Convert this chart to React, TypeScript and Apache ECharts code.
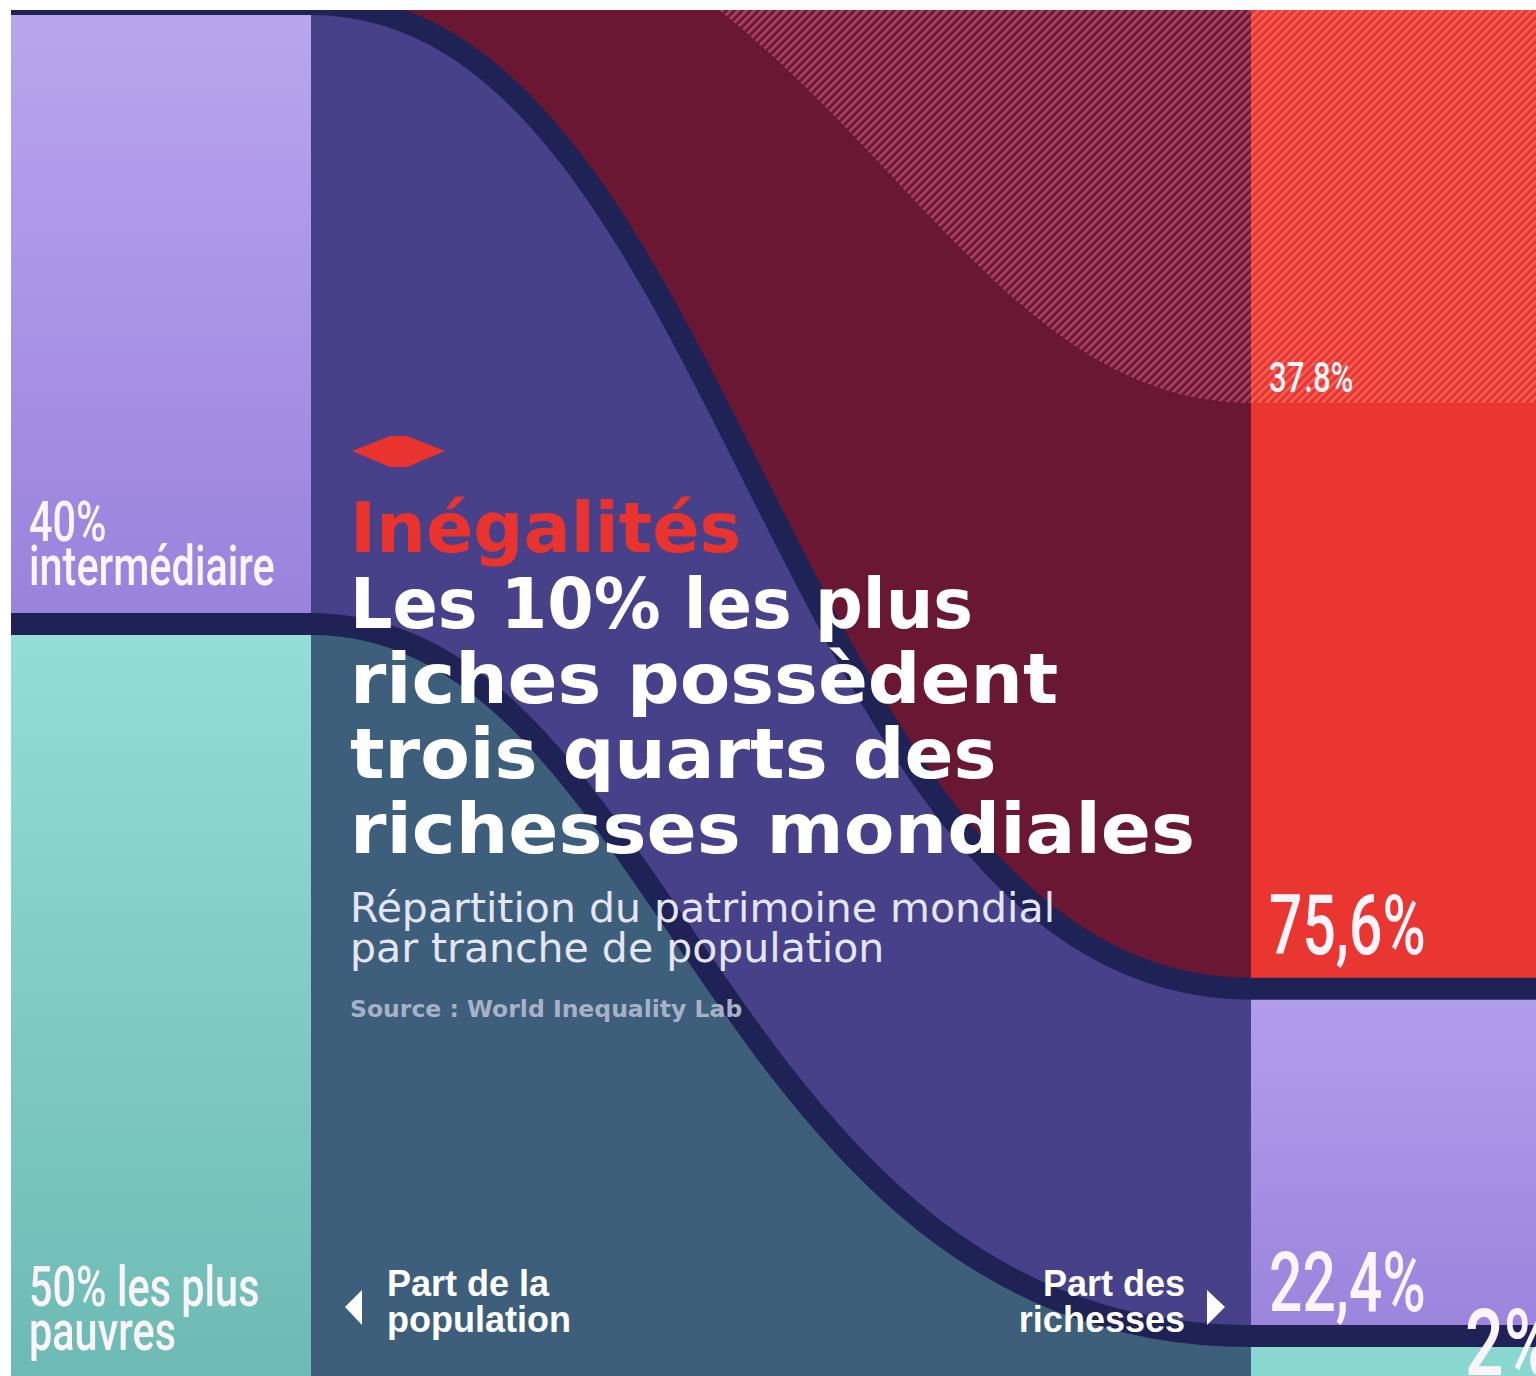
import { useEffect, useRef } from 'react';
import * as echarts from 'echarts';

// ---------------- data ----------------
const populationGroups = ['50% les plus pauvres', '40% intermédiaire', '10% les plus riches'];
const populationShare = [50, 40, 10];
const populationLabels = [['50% les plus', 'pauvres'], ['40%', 'intermédiaire'], []];
const wealthShare = [2, 22.4, 75.6];
const wealthLabels = ['2%', '22,4%', '75,6%'];
const top1PopulationShare = 1;
const top1WealthShare = 37.8;
const top1WealthLabel = '37.8%';

const titleKicker = 'Inégalités';
const titleLines = ['Les 10% les plus', 'riches possèdent', 'trois quarts des', 'richesses mondiales'];
const subtitleLines = ['Répartition du patrimoine mondial', 'par tranche de population'];
const sourceText = 'Source : World Inequality Lab';
const populationAxisLabel = ['Part de la', 'population'];
const wealthAxisLabel = ['Part des', 'richesses'];

// ---------------- derived stacks ----------------
function stack(shares: number[]) {
  let acc = 0;
  return shares.map((s) => {
    const b = [acc, acc + s];
    acc += s;
    return b;
  });
}
const popBands = stack(populationShare);
const wealthBands = stack(wealthShare);

// ---------------- layout / style ----------------
const LEFT_COL_END = 300 / 1525;
const RIGHT_COL_START = 1240 / 1525;
// visible window of each stacked axis (the top of the population stack is cropped)
const POP_AXIS = { min: 1.4839, max: 89.613 };
const WEALTH_AXIS = { min: -0.5806, max: 87.548 };
const BOUNDARY_CURVE = [
  [0.5, 0.5],
  [0.38, 0.57],
  [0.45, 0.5],
  [0.5, 0.5],
];
const TOP1_CURVE = [0.55, 0.35];
const SEP_COLOR = '#1f2255';
const SEP_WIDTH = 22;
const TITLE_SCALE = [0.954, 1.052, 1.032, 1.057];
const FLOOR_PAD = 30;

const grad = (a: string, b: string) =>
  new echarts.graphic.LinearGradient(0, 0, 0, 1, [
    { offset: 0, color: a },
    { offset: 1, color: b },
  ]);

const FLOW_COLORS = ['#3e5f7b', '#47418a', '#6a1734'];

const POP_LABEL_BASE_DY = [-49, -39, 0];
const WEALTH_LABEL_BASE_DY = [8, -24, -34];
const WEALTH_LABEL_DX = [214, 18, 18];
const WEALTH_LABEL_SIZE = [92, 84, 84];
const WEALTH_LABEL_SCALE = [0.74, 0.7, 0.7];
const CONDENSED = 0.74;

function stripes(bg: string, fg: string, size: number, lw: number) {
  const c = document.createElement('canvas');
  c.width = size;
  c.height = size;
  const g = c.getContext('2d')!;
  g.fillStyle = bg;
  g.fillRect(0, 0, size, size);
  g.strokeStyle = fg;
  g.lineWidth = lw;
  g.beginPath();
  g.moveTo(-size / 2, size / 2);
  g.lineTo(size / 2, -size / 2);
  g.moveTo(0, size);
  g.lineTo(size, 0);
  g.moveTo(size / 2, size * 1.5);
  g.lineTo(size * 1.5, size / 2);
  g.stroke();
  return { image: c, repeat: 'repeat', imageWidth: size, imageHeight: size } as any;
}

export default function App() {
  const ref = useRef<HTMLDivElement>(null);

  useEffect(() => {
    const chart = echarts.init(ref.current!, null, { renderer: 'svg' });
    const wy = (w: number) => chart.convertToPixel({ yAxisIndex: 1 } as any, w) as unknown as number;

    const LEFT_FILLS: any[] = [grad('#93ded6', '#6cb9b3'), grad('#b9a6ef', '#9882dc'), '#ea3630'];
    const RIGHT_FILLS: any[] = ['#8ad7cf', grad('#b39eec', '#9a84dd'), '#ea3630'];
    const darkHatch = stripes('#6a1734', '#a4405f', 8, 3);
    const redHatch = stripes('#ea3630', '#f4675f', 8, 2.2);

    const geom = (api: any) => ({
      xL0: api.coord([0, POP_AXIS.min])[0],
      xL1: api.coord([LEFT_COL_END, POP_AXIS.min])[0],
      xR0: api.coord([RIGHT_COL_START, POP_AXIS.min])[0],
      xR1: api.coord([1, POP_AXIS.min])[0],
      floor: api.coord([0, POP_AXIS.min])[1] + FLOOR_PAD,
      yp: (v: number) => api.coord([0, v])[1],
    });

    const flowPath = (g: any, yLt: number, yRt: number, yLb: number, yRb: number, up: number[], lo: number[] | null) => {
      const W = g.xR0 - g.xL1;
      const lower = lo
        ? `C${g.xR0 - lo[1] * W},${yRb} ${g.xL1 + lo[0] * W},${yLb} ${g.xL1},${yLb} `
        : `L${g.xL1},${yLb} `;
      return (
        `M${g.xL0},${yLt} L${g.xL1},${yLt} ` +
        `C${g.xL1 + up[0] * W},${yLt} ${g.xR0 - up[1] * W},${yRt} ${g.xR0},${yRt} ` +
        `L${g.xR1},${yRt} L${g.xR1},${yRb} L${g.xR0},${yRb} ` +
        lower +
        `L${g.xL0},${yLb} Z`
      );
    };

    const condensedText = (x: number, y: number, text: string, size: number, scaleX = CONDENSED) => ({
      type: 'text',
      x,
      y,
      scaleX,
      style: {
        text,
        fill: '#fbf4fb',
        fontSize: size,
        fontFamily: 'Roboto',
        fontWeight: 500,
        align: 'left',
        verticalAlign: 'middle',
        textAlign: 'left',
        textVerticalAlign: 'middle',
      },
    });

    const txt = (x: number, y: number, text: string, size: number, fill: string, family: string, weight: any, align = 'left', scaleX = 1) => ({
      type: 'text',
      x,
      y,
      z: 100,
      scaleX,
      style: {
        text,
        fill,
        fontSize: size,
        fontFamily: family,
        fontWeight: weight,
        align,
        verticalAlign: 'middle',
        textAlign: align,
        textVerticalAlign: 'middle',
      },
    });

    const graphicEls: any[] = [];
    graphicEls.push({
      type: 'polygon',
      z: 100,
      shape: { points: [[341, 441], [379, 426], [396, 426], [434, 441], [396, 457], [379, 457]] },
      style: { fill: '#e9332f' },
    });
    graphicEls.push(txt(339, 542 - 0.345 * 70, titleKicker, 70, '#e9332f', 'DejaVu Sans', 'bold'));
    titleLines.forEach((l, i) => {
      graphicEls.push(txt(339, 618 + i * 75 - 0.345 * 70, l, 70, '#ffffff', 'DejaVu Sans', 'bold', 'left', TITLE_SCALE[i]));
    });
    subtitleLines.forEach((l, i) => {
      graphicEls.push(txt(339, 912 + i * 40 - 0.345 * 41, l, 41, '#e4e5f5', 'DejaVu Sans', 'normal'));
    });
    graphicEls.push(txt(339, 1007 - 0.345 * 23.5, sourceText, 23.5, '#a7b1c8', 'DejaVu Sans', 'bold'));
    populationAxisLabel.forEach((l, i) => {
      graphicEls.push(txt(376, 1286 + i * 36 - 0.345 * 36, l, 36, '#ffffff', 'Liberation Sans', 'bold'));
    });
    wealthAxisLabel.forEach((l, i) => {
      graphicEls.push(txt(1174, 1286 + i * 36 - 0.345 * 36, l, 36, '#ffffff', 'Liberation Sans', 'bold', 'right'));
    });
    graphicEls.push({ type: 'polygon', z: 100, shape: { points: [[334, 1297], [351, 1280], [351, 1315]] }, style: { fill: '#ffffff' } });
    graphicEls.push({ type: 'polygon', z: 100, shape: { points: [[1196, 1280], [1196, 1315], [1214, 1297]] }, style: { fill: '#ffffff' } });

    const option: any = {
      animation: false,
      backgroundColor: '#ffffff',
      grid: { left: 0, right: 0, top: 0, bottom: 0, containLabel: false },
      xAxis: { type: 'value', min: 0, max: 1, show: false },
      yAxis: [
        { type: 'value', min: POP_AXIS.min, max: POP_AXIS.max, show: false },
        { type: 'value', min: WEALTH_AXIS.min, max: WEALTH_AXIS.max, show: false },
      ],
      series: [
        {
          type: 'custom',
          name: 'flows',
          z: 1,
          xAxisIndex: 0,
          yAxisIndex: 0,
          data: populationGroups.map((_, i) => [i, populationShare[i], wealthShare[i]]),
          renderItem: (params: any, api: any) => {
            const i = params.dataIndex;
            const g = geom(api);
            const [pl, ph] = popBands[i];
            const [wl, wh] = wealthBands[i];
            const isBase = i === 0;
            const yLt = g.yp(ph), yRt = wy(wh);
            // the base of the stack rests on the chart floor
            const yLb = isBase ? Math.max(g.yp(pl), g.floor) : g.yp(pl);
            const yRb = isBase ? Math.max(wy(wl), g.floor) : wy(wl);
            const d = flowPath(g, yLt, yRt, yLb, yRb, BOUNDARY_CURVE[i + 1], isBase ? null : BOUNDARY_CURVE[i]);
            return {
              type: 'group',
              children: [
                { type: 'path', shape: { pathData: d }, style: { fill: FLOW_COLORS[i] } },
                { type: 'rect', shape: { x: g.xL0, y: yLt, width: g.xL1 - g.xL0, height: yLb - yLt }, style: { fill: LEFT_FILLS[i] } },
                { type: 'rect', shape: { x: g.xR0, y: yRt, width: g.xR1 - g.xR0, height: yRb - yRt }, style: { fill: RIGHT_FILLS[i] } },
              ],
            };
          },
        },
        {
          type: 'custom',
          name: 'top1',
          z: 2,
          xAxisIndex: 0,
          yAxisIndex: 0,
          data: [[0, top1PopulationShare, top1WealthShare]],
          renderItem: (params: any, api: any) => {
            const g = geom(api);
            const yLt = g.yp(100), yLb = g.yp(100 - top1PopulationShare);
            const yRt = wy(100), yRb = wy(100 - top1WealthShare);
            const d = flowPath(g, yLt, yRt, yLb, yRb, BOUNDARY_CURVE[3], TOP1_CURVE);
            return {
              type: 'group',
              children: [
                { type: 'path', shape: { pathData: d }, style: { fill: darkHatch } },
                { type: 'rect', shape: { x: g.xR0, y: yRt, width: g.xR1 - g.xR0, height: yRb - yRt }, style: { fill: redHatch } },
                condensedText(g.xR0 + 18, yRb - 11 - 0.345 * 42, top1WealthLabel, 42),
              ],
            };
          },
        },
        {
          type: 'custom',
          name: 'separators',
          z: 3,
          xAxisIndex: 0,
          yAxisIndex: 0,
          data: [[1], [2]],
          renderItem: (params: any, api: any) => {
            const b = params.dataIndex + 1;
            const g = geom(api);
            const yL = g.yp(popBands[b][0]);
            const yR = wy(wealthBands[b][0]);
            const c = BOUNDARY_CURVE[b];
            const W = g.xR0 - g.xL1;
            const d =
              `M${g.xL0 - 20},${yL} L${g.xL1},${yL} ` +
              `C${g.xL1 + c[0] * W},${yL} ${g.xR0 - c[1] * W},${yR} ${g.xR0},${yR} L${g.xR1 + 20},${yR}`;
            return { type: 'path', shape: { pathData: d }, style: { fill: 'none', stroke: SEP_COLOR, lineWidth: SEP_WIDTH } };
          },
        },
        {
          type: 'custom',
          name: 'labels',
          z: 4,
          xAxisIndex: 0,
          yAxisIndex: 0,
          data: populationGroups.map((_, i) => [i]),
          renderItem: (params: any, api: any) => {
            const i = params.dataIndex;
            const g = geom(api);
            const children: any[] = [];
            const lines = populationLabels[i];
            const base = g.yp(popBands[i][0]) + POP_LABEL_BASE_DY[i];
            lines.forEach((l, k) => {
              const baseline = base - (lines.length - 1 - k) * 44;
              children.push(condensedText(g.xL0 + 18, baseline - 0.345 * 56, l, 56));
            });
            const wb = wy(wealthBands[i][0]) + WEALTH_LABEL_BASE_DY[i];
            const fs = WEALTH_LABEL_SIZE[i];
            children.push(condensedText(g.xR0 + WEALTH_LABEL_DX[i], wb - 0.345 * fs, wealthLabels[i], fs, WEALTH_LABEL_SCALE[i]));
            return { type: 'group', children };
          },
        },
      ],
      graphic: { elements: graphicEls },
    };

    chart.setOption(option);
    return () => chart.dispose();
  }, []);

  return <div ref={ref} style={{ position: 'absolute', left: 11, top: 10, width: 1525, height: 1366 }} />;
}
